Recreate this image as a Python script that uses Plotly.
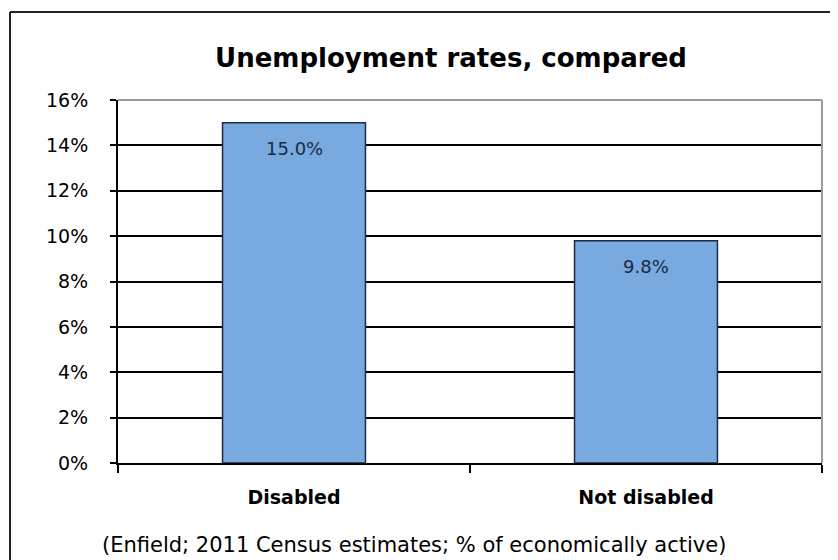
import plotly.graph_objects as go

categories = ["Disabled", "Not disabled"]
rates = [15.0, 9.8]
bar_labels = ["15.0%", "9.8%"]
y_tick_values = [0, 2, 4, 6, 8, 10, 12, 14, 16]
y_tick_labels = ["0%", "2%", "4%", "6%", "8%", "10%", "12%", "14%", "16%"]

title_text = "Unemployment rates, compared"
footnote_text = "(Enfield; 2011 Census estimates; % of economically active)"

# page is 838x560; the browser puts an 8px body margin before the figure
OFF = 8
W, H = 838 - OFF, 560 - OFF
# plot area in page pixels
PL, PR, PT, PB = 118, 822, 100, 463
L, T = PL - OFF, PT - OFF
R, B = W - (PR - OFF), H - (PB - OFF)
pw, ph = PR - PL, PB - PT

def px_x(x):
    return (x - PL) / pw

def px_y(y):
    return (PB - y) / ph

FONT = "DejaVu Sans, Liberation Sans, Arial, sans-serif"

fig = go.Figure()
fig.add_trace(go.Bar(
    x=categories,
    y=rates,
    marker=dict(color="#78A9DF", line=dict(color="#1c2b45", width=1.5)),
    hoverinfo="skip",
))

label_annotations = [
    dict(text=lab, x=cat, y=val, xref="x", yref="y",
         xanchor="center", yanchor="middle", yshift=-26, showarrow=False,
         font=dict(family=FONT, size=18, color="#1b2a45"))
    for cat, val, lab in zip(categories, rates, bar_labels)
]

fig.update_layout(
    width=W, height=H,
    margin=dict(l=L, r=R, t=T, b=B, pad=0),
    paper_bgcolor="white",
    plot_bgcolor="white",
    bargap=0.594,
    showlegend=False,
    title=dict(
        text="<b>" + title_text + "</b>",
        x=(451 - OFF) / W, xanchor="center",
        y=1 - (58 - OFF) / H, yanchor="middle",
        font=dict(family=FONT, size=26, color="black"),
    ),
    xaxis=dict(
        showline=True, linecolor="black", linewidth=2,
        ticks="outside", ticklen=8, tickcolor="black", tickwidth=2,
        tickson="boundaries",
        showgrid=False,
        tickfont=dict(family=FONT, size=19, color="black", weight="bold"),
        ticklabelstandoff=16,
    ),
    yaxis=dict(
        range=[0, 16],
        tickvals=y_tick_values,
        ticktext=y_tick_labels,
        showline=True, linecolor="black", linewidth=2,
        ticks="outside", ticklen=6, tickcolor="black", tickwidth=2,
        showgrid=True, gridcolor="black", gridwidth=2,
        zeroline=False,
        tickfont=dict(family=FONT, size=19, color="black"),
        ticklabelstandoff=18,
    ),
    shapes=[
        dict(type="line", xref="paper", yref="paper", x0=0, x1=1, y0=1, y1=1,
             line=dict(color="#9a9a9a", width=2), layer="above"),
        dict(type="line", xref="paper", yref="paper", x0=1, x1=1, y0=0, y1=1,
             line=dict(color="#9a9a9a", width=2), layer="above"),
        dict(type="line", xref="paper", yref="paper",
             x0=px_x(10), x1=px_x(850), y0=px_y(12), y1=px_y(12),
             line=dict(color="#222222", width=2)),
        dict(type="line", xref="paper", yref="paper",
             x0=px_x(10), x1=px_x(10), y0=px_y(12), y1=px_y(570),
             line=dict(color="#222222", width=2)),
    ],
    annotations=label_annotations + [
        dict(text=footnote_text, xref="paper", yref="paper",
             x=px_x(414), y=px_y(545), xanchor="center", yanchor="middle",
             showarrow=False,
             font=dict(family=FONT, size=21, color="black")),
    ],
)

fig.write_html("out.html")
